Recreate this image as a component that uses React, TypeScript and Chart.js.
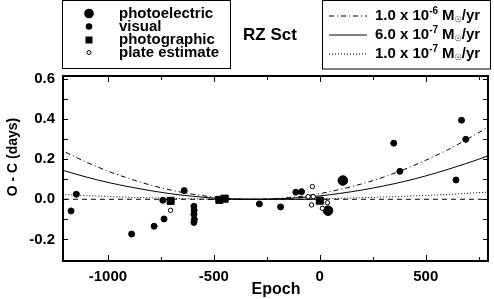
import React, { useEffect, useRef } from "react";
import { Chart, registerables } from "chart.js";
Chart.register(...registerables);

// ---------- data ----------
const curveEpochs = [-1300, -1200, -1100, -1000, -900, -800, -700, -600, -500, -400, -300, -200, -100, 0, 100, 200, 300, 400, 500, 600, 700, 800, 900];
const curve1e6 = [0.289, 0.234, 0.184, 0.14, 0.103, 0.071, 0.045, 0.025, 0.011, 0.002, 0.0, 0.004, 0.013, 0.028, 0.05, 0.077, 0.11, 0.149, 0.194, 0.244, 0.301, 0.363, 0.432];
const curve6e7 = [0.173, 0.14, 0.11, 0.084, 0.062, 0.043, 0.027, 0.015, 0.006, 0.001, 0.0, 0.002, 0.008, 0.017, 0.03, 0.046, 0.066, 0.089, 0.116, 0.147, 0.181, 0.218, 0.259];
const curve1e7 = [0.029, 0.023, 0.018, 0.014, 0.01, 0.007, 0.005, 0.002, 0.001, 0.0, 0.0, 0.0, 0.001, 0.003, 0.005, 0.008, 0.011, 0.015, 0.019, 0.024, 0.03, 0.036, 0.043];

const zeroLineEpochs = [-1250, 850];
const zeroLineValues = [0, 0];
const zeroSolidEpochs = [-530, 30];
const zeroSolidValues = [0, 0];

const photoelectricEpochs = [39, 109];
const photoelectricOC = [-0.057, 0.093];

const visualEpochs = [-1174, -1149, -888, -782, -735, -741, -640, -594, -593, -594, -592, -594, -285, -185, -113, -86, 349, 378, 643, 669, 689];
const visualOC = [-0.058, 0.025, -0.173, -0.134, -0.098, -0.005, 0.043, -0.035, -0.055, -0.075, -0.1, -0.115, -0.023, -0.038, 0.035, 0.038, 0.279, 0.139, 0.096, 0.393, 0.298];

const photographicEpochs = [-704, -474, -449, 0];
const photographicOC = [-0.008, -0.003, 0.003, -0.007];

const plateEpochs = [-704, -55, -39, -35, -31, 12, 36];
const plateOC = [-0.055, 0.013, -0.028, 0.063, 0.013, -0.045, -0.017];

const xMajorTicks = [-1000, -500, 0, 500];
const xTickLabels = ["-1000", "-500", "0", "500"];
const xMinorTicks = [-750, -250, 250, 750];
const yMajorTicks = [-0.2, 0.0, 0.2, 0.4, 0.6];
const yTickLabels = ["-0.2", "0.0", "0.2", "0.4", "0.6"];
const yMinorTicks = [-0.1, 0.1, 0.3, 0.5];

const symbolLegend = ["photoelectric", "visual", "photographic", "plate estimate"];
const lineLegendMantissa = ["1.0 x 10", "6.0 x 10", "1.0 x 10"];
const lineLegendExponent = ["-6", "-7", "-7"];

const FONT = '"Liberation Sans", Arial, Helvetica, sans-serif';

const pts = (xs: number[], ys: number[]) => xs.map((x, i) => ({ x, y: ys[i] }));

const decorations = {
  id: "decorations",
  afterDraw(chart: any) {
    const { ctx, chartArea: a, scales } = chart;
    const xs = scales.x;
    const ys = scales.y;
    ctx.save();
    ctx.strokeStyle = "#000";
    ctx.fillStyle = "#000";

    // frame
    ctx.lineWidth = 2;
    ctx.strokeRect(a.left, a.top, a.right - a.left, a.bottom - a.top);

    // ticks (inward)
    ctx.lineWidth = 1;
    ctx.beginPath();
    const xt = (v: number, len: number) => {
      const p = Math.round(xs.getPixelForValue(v)) + 0.5;
      ctx.moveTo(p, a.bottom); ctx.lineTo(p, a.bottom - len);
      ctx.moveTo(p, a.top); ctx.lineTo(p, a.top + len);
    };
    const yt = (v: number, len: number) => {
      const p = Math.round(ys.getPixelForValue(v)) + 0.5;
      ctx.moveTo(a.left, p); ctx.lineTo(a.left + len, p);
      ctx.moveTo(a.right, p); ctx.lineTo(a.right - len, p);
    };
    xMajorTicks.forEach((v) => xt(v, 6));
    xMinorTicks.forEach((v) => xt(v, 4));
    yMajorTicks.forEach((v) => yt(v, 5));
    yMinorTicks.forEach((v) => yt(v, 5));
    ctx.stroke();

    // tick labels
    ctx.font = `bold 15px ${FONT}`;
    ctx.textBaseline = "middle";
    ctx.textAlign = "center";
    xMajorTicks.forEach((v, i) => ctx.fillText(xTickLabels[i], xs.getPixelForValue(v), 277));
    ctx.textAlign = "right";
    yMajorTicks.forEach((v, i) => ctx.fillText(yTickLabels[i], 55, ys.getPixelForValue(v)));

    // axis titles
    ctx.textAlign = "center";
    ctx.font = `bold 16px ${FONT}`;
    ctx.fillText("Epoch", 276, 290);
    ctx.save();
    ctx.translate(13, 157);
    ctx.rotate(-Math.PI / 2);
    ctx.font = `bold 14px ${FONT}`;
    ctx.fillText("O - C (days)", 0, 0);
    ctx.restore();

    // star name
    ctx.textAlign = "left";
    ctx.font = `bold 17px ${FONT}`;
    ctx.fillText("RZ Sct", 243, 35);

    // symbol legend
    ctx.lineWidth = 1;
    ctx.strokeRect(62.5, 0.5, 168, 68);
    const rows = [13.5, 26.5, 40, 52.5];
    const sx = 89;
    // photoelectric
    ctx.beginPath(); ctx.arc(sx, rows[0], 4.8, 0, Math.PI * 2); ctx.fill();
    ctx.beginPath(); ctx.arc(sx, rows[1], 3.3, 0, Math.PI * 2); ctx.fill();
    ctx.fillRect(sx - 3.5, rows[2] - 3.5, 7, 7);
    ctx.fillStyle = "#fff";
    ctx.beginPath(); ctx.arc(sx, rows[3], 2, 0, Math.PI * 2); ctx.fill();
    ctx.stroke();
    ctx.fillStyle = "#000";
    ctx.font = `bold 15px ${FONT}`;
    ctx.textBaseline = "middle";
    symbolLegend.forEach((t, i) => ctx.fillText(t, 119, rows[i]));

    // line legend
    ctx.strokeRect(322.5, 0.5, 168, 68.5);
    const lrows = [15.5, 34.5, 53.5];
    const dashes = [[5, 3, 1, 3], [], [1, 2]];
    lrows.forEach((y, i) => {
      ctx.setLineDash(dashes[i]);
      ctx.beginPath();
      ctx.moveTo(329, y + 0.5);
      ctx.lineTo(367, y + 0.5);
      ctx.stroke();
    });
    ctx.setLineDash([]);
    lrows.forEach((y, i) => {
      let x = 375;
      ctx.font = `bold 15px ${FONT}`;
      ctx.textBaseline = "middle";
      ctx.fillText(lineLegendMantissa[i], x, y);
      x += ctx.measureText(lineLegendMantissa[i]).width;
      ctx.font = `bold 10px ${FONT}`;
      ctx.fillText(lineLegendExponent[i], x, y - 4);
      x += ctx.measureText(lineLegendExponent[i]).width + 4;
      ctx.font = `bold 15px ${FONT}`;
      ctx.fillText("M", x, y);
      x += ctx.measureText("M").width;
      ctx.font = `bold 8px "DejaVu Sans", sans-serif`;
      ctx.fillText("\u2609", x, y + 4);
      x += ctx.measureText("\u2609").width;
      ctx.font = `bold 15px ${FONT}`;
      ctx.fillText("/yr", x, y);
    });

    ctx.restore();
  },
};

export default function App() {
  const ref = useRef<HTMLCanvasElement | null>(null);
  useEffect(() => {
    if (!ref.current) return;
    const line = (xs: number[], ys: number[], dash: number[], order: number) => ({
      type: "scatter" as const,
      data: pts(xs, ys),
      showLine: true,
      borderColor: "#000",
      borderWidth: 1,
      borderDash: dash,
      pointRadius: 0,
      cubicInterpolationMode: "monotone" as const,
      order,
    });
    const chart = new Chart(ref.current, {
      type: "scatter",
      data: {
        datasets: [
          line(zeroLineEpochs, zeroLineValues, [5, 4], 10),
          line(zeroSolidEpochs, zeroSolidValues, [], 10),
          line(curveEpochs, curve1e6, [5, 3, 1, 3], 9),
          line(curveEpochs, curve6e7, [], 9),
          line(curveEpochs, curve1e7, [1, 2], 9),
          {
            data: pts(photoelectricEpochs, photoelectricOC),
            pointStyle: "circle",
            pointRadius: 4.8,
            backgroundColor: "#000",
            borderColor: "#000",
            borderWidth: 1,
            order: 1,
          },
          {
            data: pts(visualEpochs, visualOC),
            pointStyle: "circle",
            pointRadius: 3,
            backgroundColor: "#000",
            borderColor: "#000",
            borderWidth: 1,
            order: 2,
          },
          {
            data: pts(photographicEpochs, photographicOC),
            pointStyle: "rect",
            pointRadius: 5,
            backgroundColor: "#000",
            borderColor: "#000",
            borderWidth: 1,
            order: 3,
          },
          {
            data: pts(plateEpochs, plateOC),
            pointStyle: "circle",
            pointRadius: 2.2,
            backgroundColor: "#fff",
            borderColor: "#000",
            borderWidth: 1,
            order: 0,
          },
        ] as any,
      },
      options: {
        animation: false,
        responsive: false,
        maintainAspectRatio: false,
        layout: { padding: { left: 63, right: 3, top: 76, bottom: 38 } },
        plugins: { legend: { display: false }, tooltip: { enabled: false }, title: { display: false } },
        scales: {
          x: { type: "linear", min: -1212, max: 794, display: false },
          y: { type: "linear", min: -0.307, max: 0.613, display: false },
        },
        events: [],
      },
      plugins: [decorations],
    });
    return () => chart.destroy();
  }, []);
  return (
    <div style={{ position: "absolute", left: 0, top: 0, width: 494, height: 299, background: "#fff" }}>
      <canvas ref={ref} width={494} height={299} style={{ width: 494, height: 299, display: "block" }} />
    </div>
  );
}
